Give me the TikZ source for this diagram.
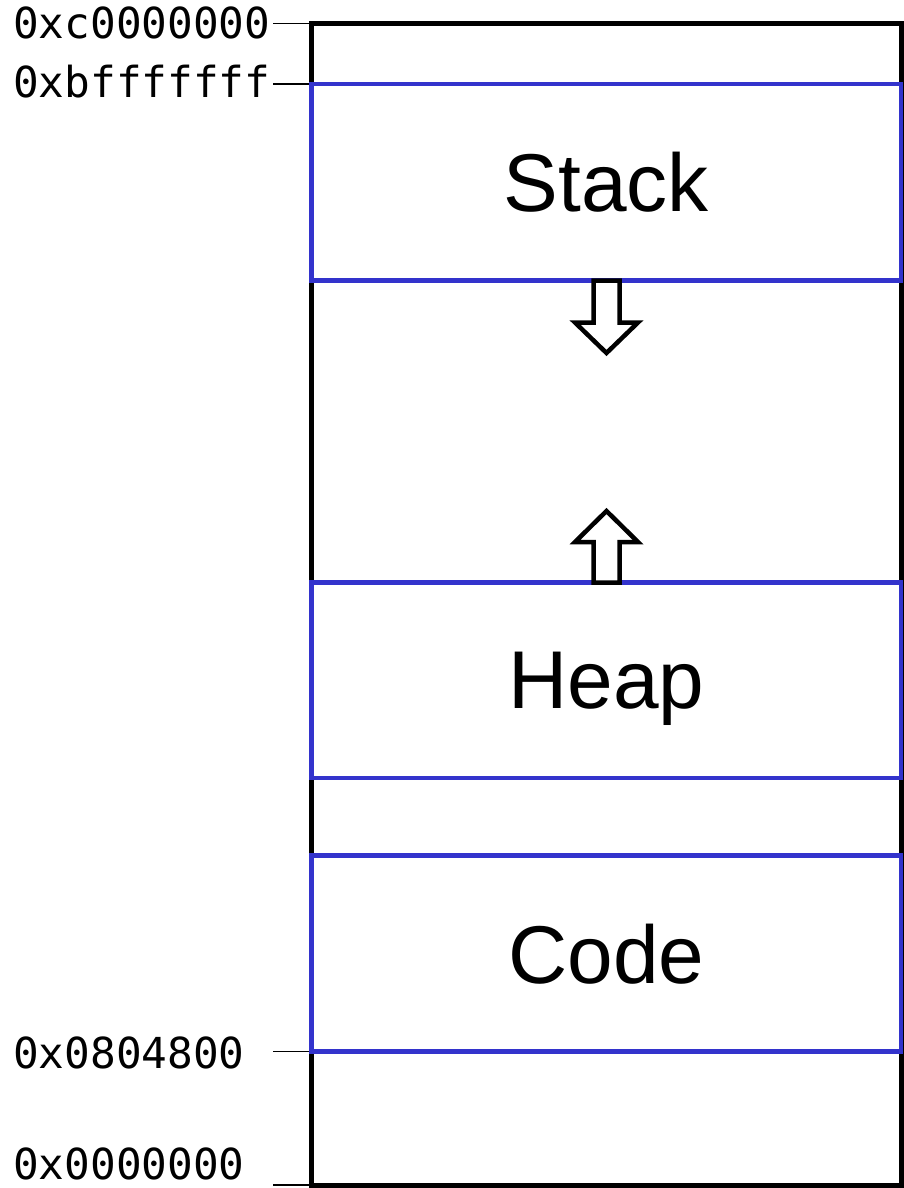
\documentclass[tikz,border=0pt]{standalone}
\usepackage{fontspec}
\setmainfont{Liberation Sans}
\newfontfamily\addrfont{DejaVu Sans Mono}
\definecolor{segblue}{HTML}{3333CC}
\begin{document}
\begin{tikzpicture}[x=1pt,y=-1pt,
  memory/.style={draw=black,line width=5pt,inner sep=0pt,minimum width=589.5pt},
  segment/.style={draw=segblue,line width=4.2pt,inner sep=0pt,minimum width=589.5pt,
    font=\fontsize{82}{90}\selectfont,text depth=0pt},
  growarrow/.style={draw=black,fill=white,line width=4.5pt,line join=miter},
  addr/.style={font=\addrfont\fontsize{42.7}{50}\selectfont,anchor=base west,inner sep=0pt},
  tick/.style={draw=black,line width=1.8pt}]
\useasboundingbox (0,0) rectangle (904,1188);
% outer memory box
\node[memory,minimum height=1161.5pt] (mem) at (606.25,604.25) {};
% segments
\node[segment,minimum height=196.5pt] (stack) at (606.25,182.25) {Stack};
\node[segment,minimum height=195.5pt] (heap) at (606.25,680.25) {Heap};
\node[segment,minimum height=196pt] (code) at (606.25,953.5) {Code};
% growth arrows
\draw[growarrow] (593.5,280.5) -- (593.5,322.5) -- (575,322.5) -- (606.5,353) -- (638,322.5)
  -- (619.5,322.5) -- (619.5,280.5) -- cycle;
\draw[growarrow] (593.5,582.5) -- (593.5,542) -- (575,542) -- (606.5,511) -- (638,542)
  -- (619.5,542) -- (619.5,582.5) -- cycle;
% address labels
\node[addr] (a1) at (13,38.5) {0xc0000000};
\node[addr] (a2) at (13,97.5) {0xbfffffff};
\node[addr] (a3) at (13,1068) {0x0804800};
\node[addr] (a4) at (13,1179) {0x0000000};
% ticks
\coordinate (t1) at (273,23.5);
\coordinate (t2) at (273,84);
\coordinate (t3) at (273,1051.5);
\coordinate (t4) at (273,1185);
\draw[tick] (t1) -- (mem.west |- t1);
\draw[tick] (t2) -- (mem.west |- t2);
\draw[tick] (t3) -- (mem.west |- t3);
\draw[tick] (t4) -- (mem.west |- t4);
\end{tikzpicture}
\end{document}
